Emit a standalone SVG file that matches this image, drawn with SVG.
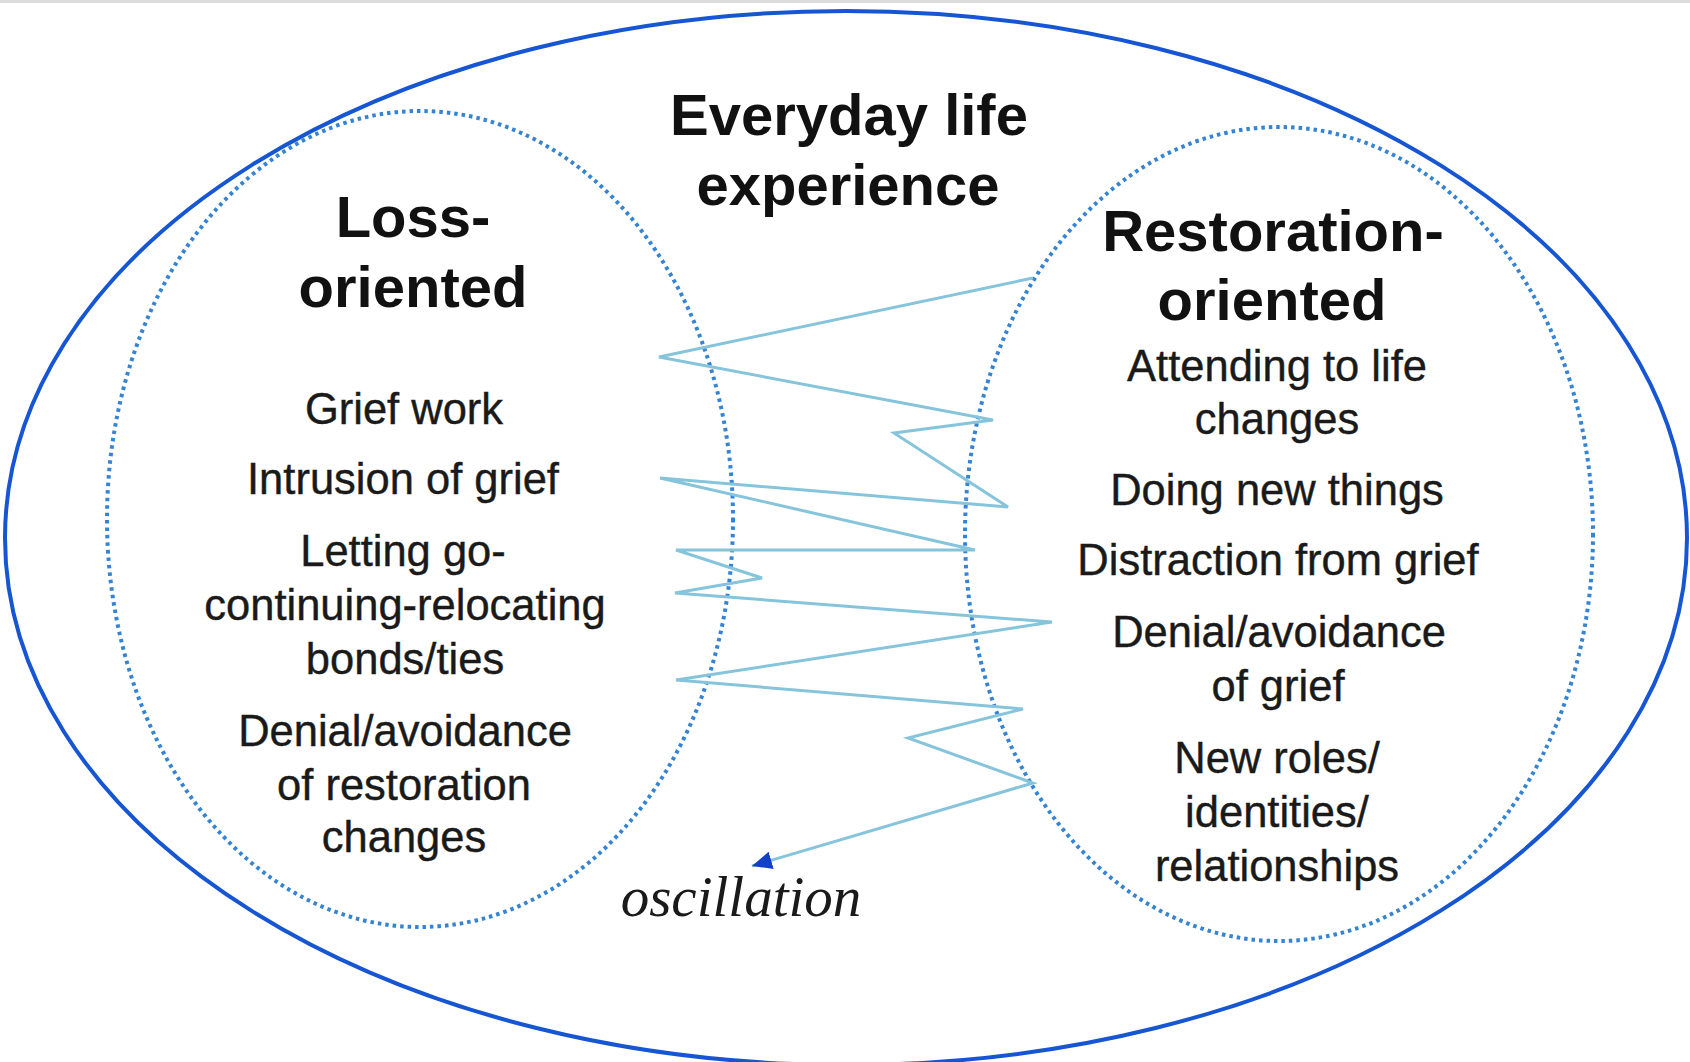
<svg xmlns="http://www.w3.org/2000/svg" width="1690" height="1062" viewBox="0 0 1690 1062">
<style>
.title{font-family:"Liberation Sans",Arial,sans-serif;font-weight:bold;font-size:58px;fill:#111;text-anchor:middle}
.item{font-family:"Liberation Sans",Arial,sans-serif;font-size:43.5px;fill:#1a1a1a;stroke:#1a1a1a;stroke-width:0.4;text-anchor:middle}
.osc{font-family:"Liberation Serif","Times New Roman",serif;font-style:italic;font-size:57px;fill:#1a1a1a;text-anchor:middle}
.dotted{fill:none;stroke:#3584d4;stroke-width:4;stroke-dasharray:3.5 4}
.outer{fill:none;stroke:#1656d2;stroke-width:4}
.zig{fill:none;stroke:#86c4dc;stroke-width:3;stroke-linejoin:miter}
</style>
<defs>
<marker id="arr" markerUnits="userSpaceOnUse" markerWidth="24" markerHeight="20" refX="20" refY="9" orient="auto">
<path d="M0,0 L20,9 L0,18 Z" fill="#1240c8"/>
</marker>
</defs>
<rect x="0" y="0" width="1690" height="1062" fill="#ffffff"/>
<rect x="0" y="0" width="1690" height="3" fill="#dcdcdc"/>
<g id="everyday-life">
<ellipse class="outer" cx="846" cy="538" rx="841" ry="527"/>
<text class="title" x="849" y="135">Everyday life</text>
<text class="title" x="848" y="205">experience</text>
</g>
<g id="loss-oriented">
<ellipse class="dotted" cx="420" cy="519" rx="313" ry="408"/>
<text class="title" x="413" y="237">Loss-</text>
<text class="title" x="413" y="307">oriented</text>
<text class="item" x="404" y="424">Grief work</text>
<text class="item" x="403" y="494">Intrusion of grief</text>
<text class="item" x="403" y="566">Letting go-</text>
<text class="item" x="405" y="620">continuing-relocating</text>
<text class="item" x="405" y="674">bonds/ties</text>
<text class="item" x="405" y="746">Denial/avoidance</text>
<text class="item" x="404" y="800">of restoration</text>
<text class="item" x="404" y="852">changes</text>
</g>
<g id="restoration-oriented">
<ellipse class="dotted" cx="1279" cy="534" rx="314" ry="407"/>
<text class="title" x="1273" y="251">Restoration-</text>
<text class="title" x="1272" y="320">oriented</text>
<text class="item" x="1277" y="381">Attending to life</text>
<text class="item" x="1277" y="434">changes</text>
<text class="item" x="1277" y="505">Doing new things</text>
<text class="item" x="1278" y="575">Distraction from grief</text>
<text class="item" x="1279" y="647">Denial/avoidance</text>
<text class="item" x="1278" y="701">of grief</text>
<text class="item" x="1277" y="773">New roles/</text>
<text class="item" x="1277" y="827">identities/</text>
<text class="item" x="1277" y="881">relationships</text>
</g>
<g id="connectors">
<polyline class="zig" marker-end="url(#arr)" points="1033,278 659,357 993,420 894,433 1008,507 660,478 975,550 676,550 762,578 675,593 1052,622 676,680 1023,709 908,738 1033,783 752,866"/>
<text class="osc" x="741" y="916">oscillation</text>
</g>
</svg>
